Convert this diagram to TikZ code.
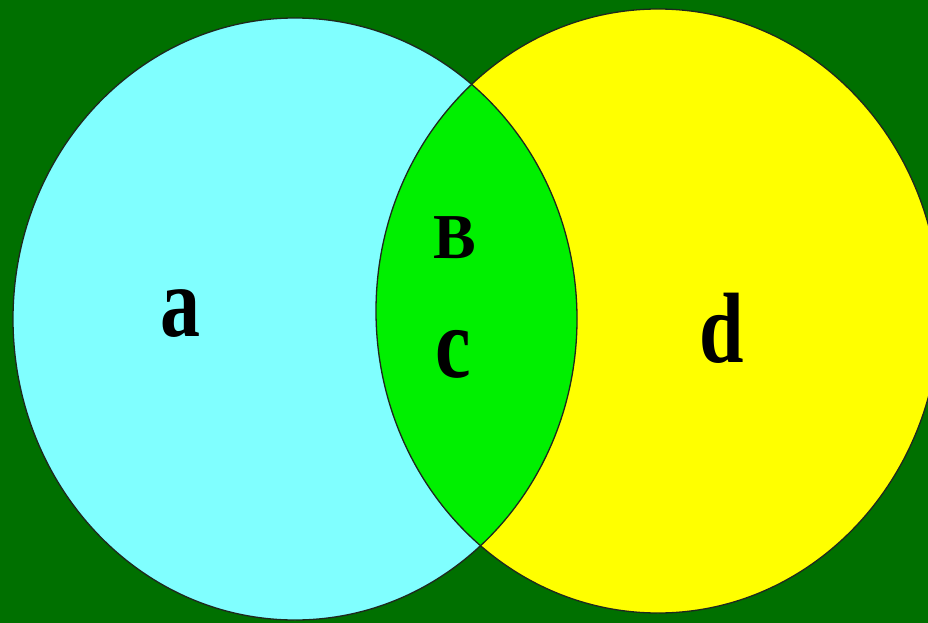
\documentclass[tikz,border=0pt]{standalone}
\usepackage{fontspec}
\setmainfont{Liberation Serif}
\definecolor{bggreen}{RGB}{0,112,0}
\definecolor{setcyan}{RGB}{128,255,255}
\definecolor{setyellow}{RGB}{255,255,0}
\definecolor{lensgreen}{RGB}{0,240,0}
\definecolor{edge}{RGB}{30,40,30}
\tikzset{
  setlabel/.style={anchor=base, inner sep=0pt, font=\fontsize{100}{100}\selectfont\bfseries, xscale=0.8},
  smalllabel/.style={anchor=base, inner sep=0pt, font=\fontsize{64}{64}\selectfont\bfseries},
  setedge/.style={draw=edge, line width=1.3pt}
}
\begin{document}
\begin{tikzpicture}[x=1pt,y=-1pt]
\useasboundingbox (0,0) rectangle (928,623);
\clip (0,0) rectangle (928,623);
\fill[bggreen] (0,0) rectangle (928,623);
\coordinate (ca) at (295,319);
\coordinate (cd) at (658,311);
\fill[setcyan] (ca) ellipse [x radius=282, y radius=301];
\fill[setyellow] (cd) ellipse [x radius=282, y radius=302];
\begin{scope}
  \clip (ca) ellipse [x radius=282, y radius=301];
  \fill[lensgreen] (cd) ellipse [x radius=282, y radius=302];
\end{scope}
\draw[setedge] (ca) ellipse [x radius=282, y radius=301];
\draw[setedge] (cd) ellipse [x radius=282, y radius=302];
\node[setlabel] (la) at (180,336) {a};
\node[setlabel] (ld) at (722,362) {d};
\node[setlabel] (lc) at (453,377) {c};
\node[smalllabel] (lb) at (455,258) {B};
\end{tikzpicture}
\end{document}
